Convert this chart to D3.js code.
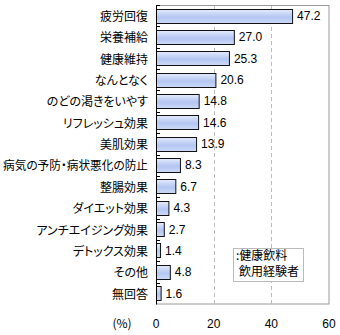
<!DOCTYPE html>
<html><head><meta charset="utf-8">
<script src="https://cdn.jsdelivr.net/npm/d3@7"></script>
<style>body{margin:0;background:#fff}svg{display:block}
.jp{font-family:"Noto Sans CJK JP",sans-serif;font-feature-settings:"palt" 1;}
</style>
</head><body>
<script>
const categories = ["疲労回復","栄養補給","健康維持","なんとなく","のどの渇きをいやす","リフレッシュ効果","美肌効果","病気の予防・病状悪化の防止","整腸効果","ダイエット効果","アンチエイジング効果","デトックス効果","その他","無回答"];
const values = [47.2,27.0,25.3,20.6,14.8,14.6,13.9,8.3,6.7,4.3,2.7,1.4,4.8,1.6];
const xTicks = [0,20,40,60];
const legendLines = [":健康飲料","飲用経験者"];

const W=340,H=335;
const svg=d3.select("body").append("svg").attr("width",W).attr("height",H);
const L=156,R=329,T=5,B=304;
const x=d3.scaleLinear().domain([0,60]).range([L,R]);
const y=d3.scaleBand().domain(categories).range([T,B]).paddingInner(0.33).paddingOuter(0.165);
const yb=d3.scaleBand().domain(categories).range([T,B]);

const defs=svg.append("defs");
const g=defs.append("linearGradient").attr("id","bg").attr("x1",0).attr("y1",0).attr("x2",0).attr("y2",1);
g.append("stop").attr("offset","0%").attr("stop-color","#e4ebfc");
g.append("stop").attr("offset","55%").attr("stop-color","#b3c5f1");
g.append("stop").attr("offset","100%").attr("stop-color","#cdd9f7");

// plot frame
svg.append("rect").attr("x",L+0.5).attr("y",T+0.5).attr("width",R-L-0.5).attr("height",B-T-0.5)
  .attr("fill","none").attr("stroke","#999").attr("stroke-width",1);
// gridlines
svg.selectAll(".grid").data(xTicks.filter(d=>d>0&&d<60)).enter().append("line")
  .attr("x1",d=>Math.round(x(d))+0.5).attr("x2",d=>Math.round(x(d))+0.5)
  .attr("y1",T+1).attr("y2",B).attr("stroke","#bbb").attr("stroke-dasharray","4,3");

// bars
svg.selectAll(".bar").data(values).enter().append("rect")
  .attr("x",x(0)+0.5).attr("y",(d,i)=>Math.round(y(categories[i]))+0.5)
  .attr("width",d=>x(d)-x(0)).attr("height",Math.round(y.bandwidth()))
  .attr("fill","url(#bg)").attr("stroke","#111").attr("stroke-width",1);

// value labels
svg.selectAll(".val").data(values).enter().append("text")
  .attr("x",d=>x(d)+5).attr("y",(d,i)=>y(categories[i])+y.bandwidth()/2)
  .attr("dy","0.36em").attr("font-family","Liberation Sans, Arial, sans-serif").attr("font-size",12).attr("fill","#000")
  .text(d=>d.toFixed(1));

// left axis
svg.append("line").attr("x1",L+0.5).attr("x2",L+0.5).attr("y1",T).attr("y2",B+0.5).attr("stroke","#000");
const bounds=categories.map(c=>yb(c));
svg.selectAll(".tk").data(bounds).enter().append("line")
  .attr("x1",L).attr("x2",L+4).attr("y1",d=>Math.round(d)+0.5).attr("y2",d=>Math.round(d)+0.5).attr("stroke","#000");

// category labels
const maxW=145;
svg.selectAll(".cat").data(categories).enter().append("text").attr("class","jp")
  .attr("x",148).attr("y",d=>y(d)+y.bandwidth()/2+1).attr("dy","0.36em")
  .attr("text-anchor","end").attr("font-size",12).attr("fill","#000")
  .text(d=>d)
  .each(function(){ const w=this.getComputedTextLength(); if(w>maxW){ d3.select(this).attr("textLength",maxW).attr("lengthAdjust","spacingAndGlyphs"); } });

// x tick labels
svg.selectAll(".xt").data(xTicks).enter().append("text")
  .attr("x",d=>x(d)).attr("y",328).attr("text-anchor","middle")
  .attr("font-family","Liberation Sans, Arial, sans-serif").attr("font-size",12).attr("fill","#000").text(d=>d);
svg.append("text").attr("class","jp").attr("x",122).attr("y",328).attr("text-anchor","middle")
  .attr("font-size",12).text("(%)");

// legend
svg.append("rect").attr("x",233.5).attr("y",248.5).attr("width",70).attr("height",33)
  .attr("fill","#fff").attr("stroke","#bbb");
svg.selectAll(".lg").data(legendLines).enter().append("text").attr("class","jp")
  .attr("x",(d,i)=>i===0?236:239).attr("y",(d,i)=>260+i*16)
  .attr("font-size",12).text(d=>d);
</script>
</body></html>
